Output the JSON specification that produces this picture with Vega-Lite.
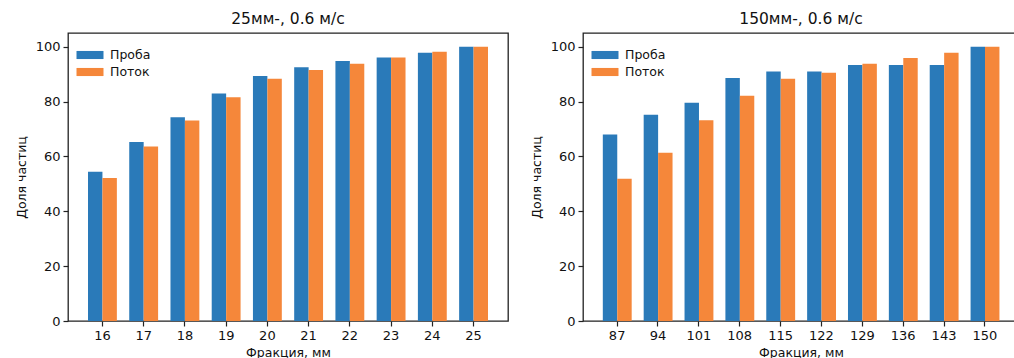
{
  "$schema": "https://vega.github.io/schema/vega-lite/v6.json",
  "background": "white",
  "padding": {"left": 14, "top": 10, "right": 0, "bottom": 0},
  "config": {
    "font": "DejaVu Sans",
    "view": {"stroke": "#222", "strokeWidth": 1.3},
    "axis": {"grid": false, "domain": false, "labelFont": "DejaVu Sans", "labelFontSize": 13, "labelColor": "#111", "titleFont": "DejaVu Sans", "titleFontSize": 12.5, "titleFontWeight": "normal", "titleColor": "#111", "tickColor": "#222", "tickSize": 5, "tickWidth": 1.2, "labelPadding": 3},
    "axisY": {"titlePadding": 7},
    "title": {"font": "DejaVu Sans", "fontSize": 15.5, "fontWeight": "normal", "color": "#111", "offset": 6},
    "legend": {"labelFont": "DejaVu Sans", "labelFontSize": 12.5, "labelColor": "#111"},
    "concat": {"spacing": 20}
  },
  "datasets": {
    "a": [
      {"frac": "16", "series": "Проба", "value": 54.4},
      {"frac": "16", "series": "Поток", "value": 52.1},
      {"frac": "17", "series": "Проба", "value": 65.3},
      {"frac": "17", "series": "Поток", "value": 63.6},
      {"frac": "18", "series": "Проба", "value": 74.3},
      {"frac": "18", "series": "Поток", "value": 73.1},
      {"frac": "19", "series": "Проба", "value": 82.9},
      {"frac": "19", "series": "Поток", "value": 81.6},
      {"frac": "20", "series": "Проба", "value": 89.3},
      {"frac": "20", "series": "Поток", "value": 88.3},
      {"frac": "21", "series": "Проба", "value": 92.5},
      {"frac": "21", "series": "Поток", "value": 91.5},
      {"frac": "22", "series": "Проба", "value": 94.8},
      {"frac": "22", "series": "Поток", "value": 93.8},
      {"frac": "23", "series": "Проба", "value": 96.1},
      {"frac": "23", "series": "Поток", "value": 96.1},
      {"frac": "24", "series": "Проба", "value": 97.8},
      {"frac": "24", "series": "Поток", "value": 98.2},
      {"frac": "25", "series": "Проба", "value": 100},
      {"frac": "25", "series": "Поток", "value": 100}
    ],
    "b": [
      {"frac": "87", "series": "Проба", "value": 68.0},
      {"frac": "87", "series": "Поток", "value": 51.9},
      {"frac": "94", "series": "Проба", "value": 75.2},
      {"frac": "94", "series": "Поток", "value": 61.3},
      {"frac": "101", "series": "Проба", "value": 79.6},
      {"frac": "101", "series": "Поток", "value": 73.2},
      {"frac": "108", "series": "Проба", "value": 88.6},
      {"frac": "108", "series": "Поток", "value": 82.1},
      {"frac": "115", "series": "Проба", "value": 91.0},
      {"frac": "115", "series": "Поток", "value": 88.3},
      {"frac": "122", "series": "Проба", "value": 91.0},
      {"frac": "122", "series": "Поток", "value": 90.5},
      {"frac": "129", "series": "Проба", "value": 93.3},
      {"frac": "129", "series": "Поток", "value": 93.8},
      {"frac": "136", "series": "Проба", "value": 93.3},
      {"frac": "136", "series": "Поток", "value": 95.9},
      {"frac": "143", "series": "Проба", "value": 93.3},
      {"frac": "143", "series": "Поток", "value": 97.8},
      {"frac": "150", "series": "Проба", "value": 100},
      {"frac": "150", "series": "Поток", "value": 100}
    ]
  },
  "resolve": {"legend": {"color": "independent"}, "scale": {"x": "independent"}},
  "hconcat": [
    {
      "title": "25мм-, 0.6 м/с",
      "width": 440,
      "height": 288,
      "data": {"name": "a"},
      "mark": {"type": "bar"},
      "encoding": {
        "x": {"field": "frac", "type": "ordinal", "sort": null, "title": "Фракция, мм", "scale": {"paddingInner": 0.3, "paddingOuter": 0.485}, "axis": {"labelAngle": 0}},
        "xOffset": {"field": "series", "type": "nominal", "sort": ["Проба", "Поток"], "scale": {"paddingInner": 0, "paddingOuter": 0}},
        "y": {"field": "value", "type": "quantitative", "title": "Доля частиц", "scale": {"domain": [0, 105], "nice": false}, "axis": {"values": [0, 20, 40, 60, 80, 100]}},
        "color": {"field": "series", "type": "nominal", "sort": ["Проба", "Поток"], "scale": {"domain": ["Проба", "Поток"], "range": ["#2a7ab9", "#f5873a"]}, "legend": {"title": null, "orient": "top-left", "symbolType": "M-1.4,-0.42L1.4,-0.42L1.4,0.42L-1.4,0.42Z", "symbolSize": 372, "symbolStrokeWidth": 0, "offset": 12, "rowPadding": 0, "labelOffset": 10}}
      }
    },
    {
      "title": "150мм-, 0.6 м/с",
      "width": 436,
      "height": 288,
      "data": {"name": "b"},
      "mark": {"type": "bar"},
      "encoding": {
        "x": {"field": "frac", "type": "ordinal", "sort": null, "title": "Фракция, мм", "scale": {"paddingInner": 0.3, "paddingOuter": 0.485}, "axis": {"labelAngle": 0}},
        "xOffset": {"field": "series", "type": "nominal", "sort": ["Проба", "Поток"], "scale": {"paddingInner": 0, "paddingOuter": 0}},
        "y": {"field": "value", "type": "quantitative", "title": "Доля частиц", "scale": {"domain": [0, 105], "nice": false}, "axis": {"values": [0, 20, 40, 60, 80, 100]}},
        "color": {"field": "series", "type": "nominal", "sort": ["Проба", "Поток"], "scale": {"domain": ["Проба", "Поток"], "range": ["#2a7ab9", "#f5873a"]}, "legend": {"title": null, "orient": "top-left", "symbolType": "M-1.4,-0.42L1.4,-0.42L1.4,0.42L-1.4,0.42Z", "symbolSize": 372, "symbolStrokeWidth": 0, "offset": 12, "rowPadding": 0, "labelOffset": 10}}
      }
    }
  ]
}
